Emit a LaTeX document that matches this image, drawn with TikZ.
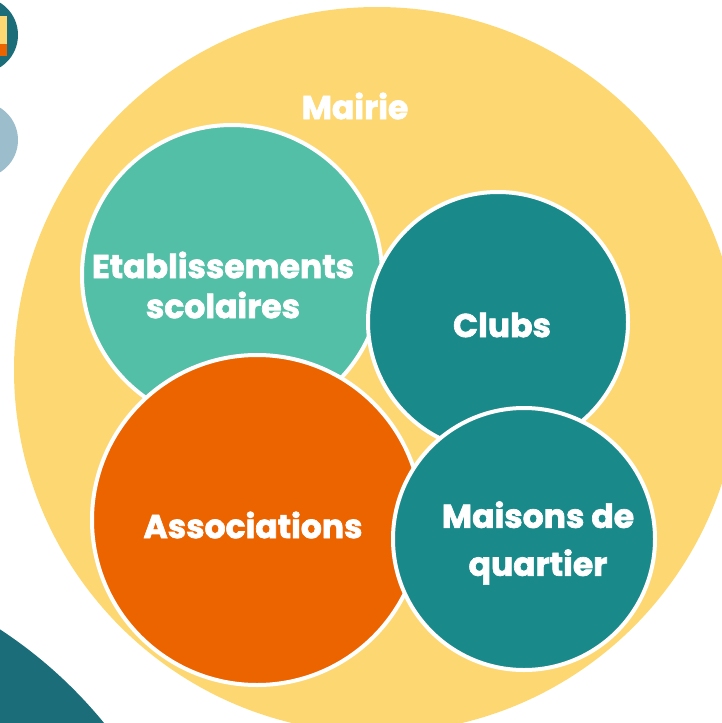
\documentclass[tikz,border=0pt]{standalone}
\usepackage{fontspec}
\newfontfamily\bubblefont{Poppins}[BoldFeatures={FakeBold=2}]
\definecolor{cyellow}{HTML}{FDD872}
\definecolor{cgreen}{HTML}{52BFA6}
\definecolor{cteal}{HTML}{1A898A}
\definecolor{corange}{HTML}{EC6400}
\definecolor{cdark}{HTML}{1B6D79}
\definecolor{cgreyblue}{HTML}{9CBDCB}
\tikzset{
  every picture/.style={x=1pt, y=-1pt},
  bubble/.style={circle, draw=white, line width=4pt, fill=#1, inner sep=0pt},
  bubble/.default=cteal,
  caption/.style={text=white, align=center, font=\bubblefont\bfseries\fontsize{33}{40}\selectfont},
}

\begin{document}
\begin{tikzpicture}
  \useasboundingbox (0,0) rectangle (722,723);
  \clip (0,0) rectangle (722,723);
  % side decorations
  \fill[cdark] (-20,35) circle (38);
  \fill[cyellow] (-6,16) rectangle (7,44);
  \fill[corange] (-6,44) rectangle (7,56);
  \fill[cgreyblue] (-20,140) circle (38);
  \fill[cdark] (-250,1012) circle (457);
  % circles
  \node[circle, fill=cyellow, minimum size=726, inner sep=0pt] (mairie) at (377,370) {};
  \node[caption] (mairietxt) at (355,106) {Mairie};
  \node[bubble=cgreen, minimum size=300] (ecoles) at (232,275) {};
  \node[bubble=cteal, minimum size=260] (clubs) at (498,322) {};
  \node[bubble=corange, minimum size=330] (assoc) at (257,520) {};
  \node[bubble=cteal, minimum size=262] (maisons) at (524,539) {};
  % labels
  \node[caption] (ecolestxt) at (223,285) {Etablissements\\[-0pt]scolaires};
  \node[caption] (clubstxt) at (502,325) {Clubs};
  \node[caption] (assoctxt) at (253,525) {Associations};
  \node[caption] (maisonstxt) at (538,543) {Maisons de\\[8pt]quartier};
\end{tikzpicture}
\end{document}
